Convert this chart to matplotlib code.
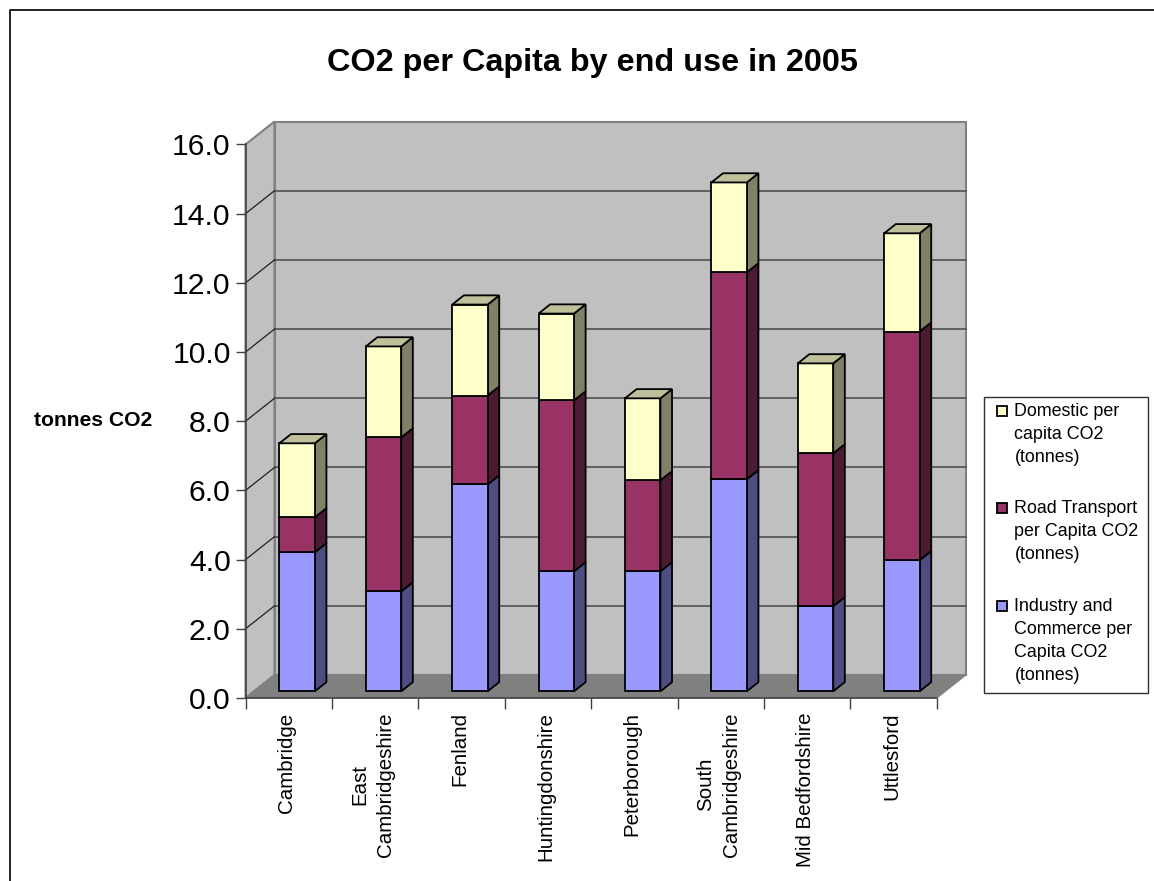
import matplotlib
matplotlib.use("Agg")
import matplotlib.pyplot as plt
from matplotlib.patches import Rectangle

plt.rcParams["font.family"] = ["Liberation Sans", "DejaVu Sans"]

W, H = 1154, 881

areas = ["Cambridge", "East\nCambridgeshire", "Fenland", "Huntingdonshire",
         "Peterborough", "South\nCambridgeshire", "Mid Bedfordshire", "Uttlesford"]
industry = [4.02, 2.89, 5.98, 3.47, 3.47, 6.13, 2.46, 3.79]
road = [1.01, 4.45, 2.57, 4.94, 2.63, 5.98, 4.42, 6.61]
domestic = [2.14, 2.63, 2.63, 2.51, 2.37, 2.60, 2.60, 2.84]
y_ticks = [0, 2, 4, 6, 8, 10, 12, 14, 16]

series_names = ["Domestic per\ncapita CO2\n(tonnes)",
                "Road Transport\nper Capita CO2\n(tonnes)",
                "Industry and\nCommerce per\nCapita CO2\n(tonnes)"]

BLUE, BLUE_SIDE = "#9999FF", "#4D4D80"
MAROON, MAROON_SIDE = "#993366", "#4D1A33"
YELLOW, YELLOW_SIDE, YELLOW_TOP = "#FFFFCC", "#808066", "#BFBF99"
WALL, FLOOR, EDGE, GRID = "#C0C0C0", "#808080", "#808080", "#505050"

# depth of the fake 3D box, in data units of each axis
DX = 29 / 86.4
DY = 23 / 34.625
BAR_W = 0.41
Z0, Z1 = 0.29, 0.69


def proj(x, y, z):
    return x + z * DX, y + z * DY


def face(ax, pts, color, zorder, ec="black", lw=1.3):
    xs = [p[0] for p in pts]
    ys = [p[1] for p in pts]
    ax.fill(xs, ys, facecolor=color, edgecolor=ec, linewidth=lw, zorder=zorder,
            joinstyle="miter", clip_on=False)


fig = plt.figure(figsize=(W / 100, H / 100), dpi=100)

# page furniture, laid out in pixels
page = fig.add_axes([0, 0, 1, 1], zorder=0)
page.set_xlim(0, W)
page.set_ylim(H, 0)
page.axis("off")
page.plot([9.5, 9.5, W], [H, 10, 10], color="#101010", lw=1.3, clip_on=False)
page.text(592.5, 63.5, "CO2 per Capita by end use in 2005", fontsize=23.3, fontweight="bold",
          ha="center", va="center")
page.text(93, 420.5, "tonnes CO2", fontsize=15.2, fontweight="bold", ha="center", va="center")

# legend box
page.add_patch(Rectangle((983.5, 397), 164.5, 295.5, fc="white", ec="#303030", lw=1))
leg_colors = [YELLOW, MAROON, BLUE]
leg_y = [410, 507, 605]
for name, col, yy in zip(series_names, leg_colors, leg_y):
    page.add_patch(Rectangle((997, yy - 4.5), 10, 10, fc=col, ec="black", lw=1.3))
    page.text(1014.5, yy - 7, name, fontsize=12.85, va="top", ha="left", linespacing=1.47)

# chart box: x in categories, y in tonnes
x0, x1 = 245.5, 245.5 + 8 * 86.4 + 29
y0, y1 = 698, 121.5
ax = fig.add_axes([x0 / W, 1 - y0 / H, (x1 - x0) / W, (y0 - y1) / H], zorder=1)
ax.patch.set_visible(False)
ax.set_xlim(0, 8 + DX)
ax.set_ylim(0, 16 + DY)

n = len(areas)

# walls and floor
face(ax, [proj(0, 0, 1), proj(n, 0, 1), proj(n, 16, 1), proj(0, 16, 1)], WALL, 1, ec=EDGE, lw=1.5)
face(ax, [proj(0, 0, 0), proj(0, 0, 1), proj(0, 16, 1), proj(0, 16, 0)], WALL, 1, ec=EDGE, lw=1.5)
face(ax, [proj(0, 0, 0), proj(n, 0, 0), proj(n, 0, 1), proj(0, 0, 1)], FLOOR, 1.5, ec=FLOOR, lw=1)

# gridlines run along the back wall and down the side wall
for v in y_ticks[1:-1]:
    xs, ys = zip(proj(0, v, 1), proj(n, v, 1))
    ax.plot(xs, ys, color=GRID, lw=1.2, zorder=2, clip_on=False)
    xs, ys = zip(proj(0, v, 0), proj(0, v, 1))
    ax.plot(xs, ys, color="#202020", lw=0.9, zorder=2, clip_on=False)

# stacked columns
for i in range(n):
    left = i + 0.5 - BAR_W / 2
    right = left + BAR_W
    base = 0
    z = 3 + i
    stack = [(industry[i], BLUE, BLUE_SIDE),
             (road[i], MAROON, MAROON_SIDE),
             (domestic[i], YELLOW, YELLOW_SIDE)]
    for val, col, side in stack:
        top = base + val
        face(ax, [proj(right, base, Z0), proj(right, base, Z1),
                  proj(right, top, Z1), proj(right, top, Z0)], side, z)
        face(ax, [proj(left, base, Z0), proj(right, base, Z0),
                  proj(right, top, Z0), proj(left, top, Z0)], col, z + 0.1)
        base = top
    face(ax, [proj(left, base, Z0), proj(right, base, Z0),
              proj(right, base, Z1), proj(left, base, Z1)], YELLOW_TOP, z + 0.1)

# axes
for s in ["top", "right"]:
    ax.spines[s].set_visible(False)
ax.spines["left"].set_bounds(0, 16)
ax.spines["bottom"].set_bounds(0, n)
for s in ["left", "bottom"]:
    ax.spines[s].set_color("#404040")
    ax.spines[s].set_linewidth(1.1)
ax.set_yticks(y_ticks)
ax.set_yticklabels([f"{v:.1f}" for v in y_ticks])
ax.tick_params(axis="y", length=7.2, width=1, color="#404040", labelsize=21.7, pad=3.5)
ax.set_xticks(range(n + 1))
ax.set_xticklabels([])
ax.tick_params(axis="x", length=7.8, width=1, color="#404040")

for i, name in enumerate(areas):
    ax.annotate(name, xy=(i + 0.5, 0), xytext=(-1.5, -10.4), textcoords="offset points",
                rotation=90, ha="center", va="top", fontsize=14.8, multialignment="center",
                linespacing=1.45, annotation_clip=False)

fig.savefig("out.png", dpi=100, facecolor="white")
